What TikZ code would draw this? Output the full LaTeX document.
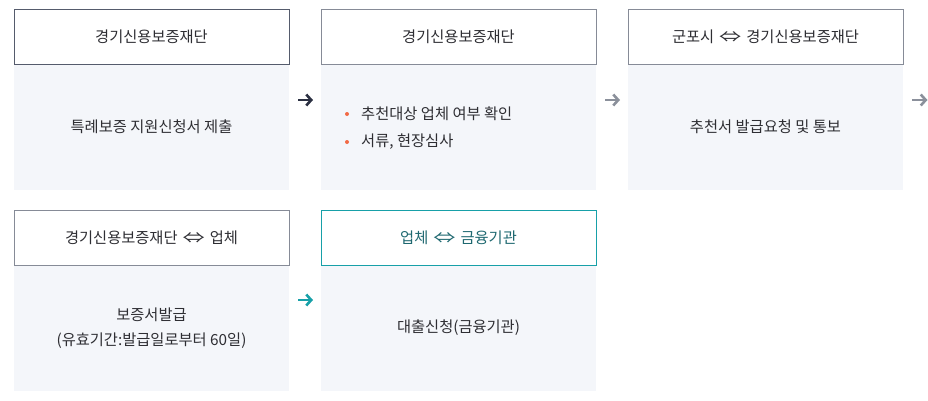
\documentclass[tikz,border=0pt]{standalone}
\usepackage{fontspec}
\setmainfont{Noto Sans CJK KR}
\usetikzlibrary{arrows.meta,positioning}
\definecolor{boxfill}{HTML}{F4F6FA}
\definecolor{txt}{HTML}{2E2E33}
\definecolor{lineA}{HTML}{555B6C}
\definecolor{lineB}{HTML}{868B97}
\definecolor{teal}{HTML}{17A0A8}
\definecolor{tealtxt}{HTML}{1E6870}
\definecolor{arrA}{HTML}{2B3042}
\definecolor{arrB}{HTML}{8B909B}
\definecolor{bul}{HTML}{F26A45}
\newcommand{\both}{\hspace{5pt}\scalebox{1.45}[1]{⇔}\hspace{5pt}}
\begin{document}
\begin{tikzpicture}[x=1pt,y=-1pt,
    title/.style={draw=lineB, line width=1pt, fill=white, minimum width=275pt,
        minimum height=55pt, inner sep=0pt, outer sep=0pt,
        font=\fontsize{15.3}{18}\selectfont, text=txt},
    body/.style={fill=boxfill, minimum width=275pt, minimum height=126pt,
        inner sep=0pt, outer sep=0pt, align=center,
        font=\fontsize{15.3}{25}\selectfont, text=txt},
    go/.style={line width=2.6pt, -{Straight Barb[length=5pt,width=11pt]},
        shorten <=9pt, shorten >=8pt}]
    \useasboundingbox (0,0) rectangle (928,400);

    % 첫째 줄
    \node[body] (C_1) at (151.5,127) {특례보증 지원신청서 제출};
    \node[title, draw=lineA, above=0pt of C_1] (T_1) {경기신용보증재단};
    \node[body, right=32pt of C_1] (C_2) {};
    \node[title, above=0pt of C_2] (T_2) {경기신용보증재단};
    \node[body, right=32pt of C_2] (C_3) {추천서 발급요청 및 통보};
    \node[title, above=0pt of C_3] (T_3) {군포시\both 경기신용보증재단};

    % 목록
    \node[anchor=west, inner sep=0pt, text=txt, font=\fontsize{15.3}{18}\selectfont] (L_1) at (361,114) {추천대상 업체 여부 확인};
    \node[anchor=west, inner sep=0pt, text=txt, font=\fontsize{15.3}{18}\selectfont] (L_2) at (361,142) {서류, 현장심사};
    \fill[bul] ([xshift=-14pt]L_1.west) circle (2pt);
    \fill[bul] ([xshift=-14pt]L_2.west) circle (2pt);

    % 둘째 줄
    \node[body, below=75pt of C_1] (C_4) {보증서발급\\(유효기간:발급일로부터 60일)};
    \node[title, above=0pt of C_4] (T_4) {경기신용보증재단\both 업체};
    \node[body, right=32pt of C_4] (C_5) {대출신청(금융기관)};
    \node[title, draw=teal, text=tealtxt, above=0pt of C_5] (T_5) {업체\both 금융기관};

    % 화살표
    \coordinate (R_1) at (0,100);
    \coordinate (R_2) at (0,300);
    \coordinate (E) at (928,100);
    \draw[go, arrA] (C_1.east |- R_1) -- (C_2.west |- R_1);
    \draw[go, arrB] (C_2.east |- R_1) -- (C_3.west |- R_1);
    \draw[go, arrB, shorten >=0.5pt] (C_3.east |- R_1) -- (E);
    \draw[go, teal] (C_4.east |- R_2) -- (C_5.west |- R_2);
\end{tikzpicture}
\end{document}
